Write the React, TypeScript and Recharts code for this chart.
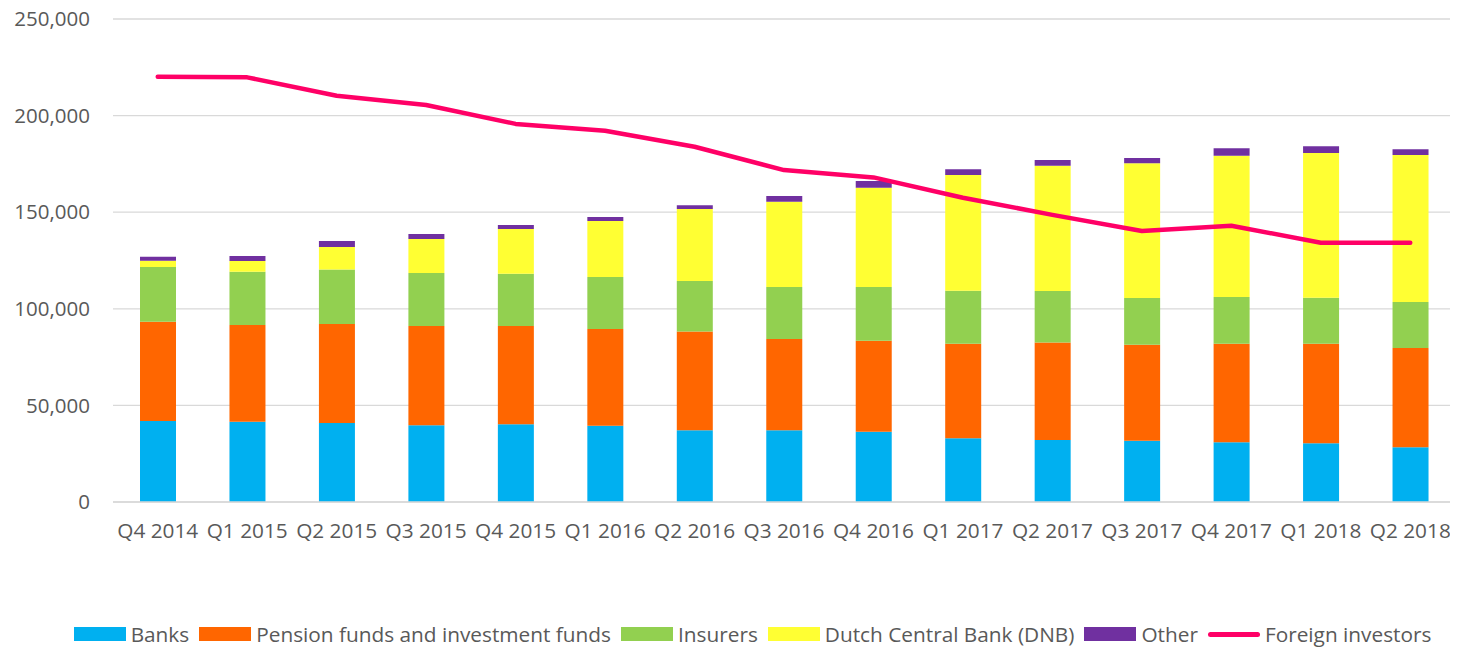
import { Bar, CartesianGrid, ComposedChart, Legend, Line, XAxis, YAxis } from "recharts"

const quarters = [
  "Q4 2014", "Q1 2015", "Q2 2015", "Q3 2015", "Q4 2015", "Q1 2016", "Q2 2016", "Q3 2016",
  "Q4 2016", "Q1 2017", "Q2 2017", "Q3 2017", "Q4 2017", "Q1 2018", "Q2 2018",
]
const banks = [41900, 41600, 40900, 39700, 40200, 39500, 37100, 37100, 36400, 33000, 32100, 31700, 30900, 30400, 28300]
const pensionFunds = [51400, 50000, 51200, 51400, 50900, 50000, 51100, 47300, 47100, 48900, 50400, 49700, 51000, 51500, 51400]
const insurers = [28300, 27600, 28200, 27400, 27100, 27000, 26200, 26900, 27800, 27500, 26700, 24200, 24200, 23800, 23800]
const dnb = [3300, 5500, 11700, 17600, 23100, 28900, 37300, 44100, 51400, 59900, 64900, 69700, 73100, 74900, 76100]
const other = [2100, 2600, 3100, 2600, 2100, 2100, 1900, 3000, 3400, 2900, 2900, 2800, 3900, 3500, 3000]
const foreignInvestors = [220100, 219800, 210300, 205500, 195700, 192200, 183900, 171800, 168000, 157500, 148600, 140300, 143000, 134200, 134200]
const yTicks = [0, 50000, 100000, 150000, 200000, 250000]

const data = quarters.map((q, i) => ({
  quarter: q,
  banks: banks[i],
  pension: pensionFunds[i],
  insurers: insurers[i],
  dnb: dnb[i],
  other: other[i],
  foreign: foreignInvestors[i],
}))

const FONT = "'Open Sans', sans-serif"
const TEXT = "#595959"

const legendItems = [
  { label: "Banks", color: "#00B0F0", line: false },
  { label: "Pension funds and investment funds", color: "#FF6600", line: false },
  { label: "Insurers", color: "#92D050", line: false },
  { label: "Dutch Central Bank (DNB)", color: "#FFFF33", line: false },
  { label: "Other", color: "#7030A0", line: false },
  { label: "Foreign investors", color: "#FF0066", line: true },
]

function ChartLegend() {
  return (
    <div
      style={{
        display: "flex",
        justifyContent: "center",
        alignItems: "center",
        height: 26,
        fontFamily: FONT,
        fontSize: 20.8,
        color: TEXT,
        gap: 10,
        paddingLeft: 42,
      }}
    >
      {legendItems.map((item) => (
        <div key={item.label} style={{ display: "flex", alignItems: "center", gap: 5 }}>
          {item.line ? (
            <div style={{ width: 52, height: 5, borderRadius: 3, background: item.color }} />
          ) : (
            <div style={{ width: 52, height: 14, background: item.color }} />
          )}
          <span>{item.label}</span>
        </div>
      ))}
    </div>
  )
}

export default function App() {
  // shifted up a little so the top tick label stays inside the svg
  return (
    <div style={{ width: 1450, height: 649, marginTop: -10, background: "#fff" }}>
      <ComposedChart
        width={1450}
        height={649}
        data={data}
        margin={{ top: 21, right: 3, left: 0, bottom: 0 }}
        barSize={36}
      >
        <CartesianGrid vertical={false} stroke="#D9D9D9" strokeWidth={1.3} />
        <XAxis
          dataKey="quarter"
          height={119}
          tick={{ fontSize: 20.8, fill: TEXT, fontFamily: FONT }}
          tickLine={false}
          axisLine={{ stroke: "#D9D9D9", strokeWidth: 1.3 }}
          tickMargin={15}
          interval={0}
        />
        <YAxis
          width={105}
          domain={[0, 250000]}
          ticks={yTicks}
          tick={{ fontSize: 20.5, fill: TEXT, fontFamily: FONT }}
          tickFormatter={(v: number) => v.toLocaleString("en-US")}
          axisLine={false}
          tickLine={false}
          tickMargin={17}
        />
        <Legend verticalAlign="bottom" content={() => <ChartLegend />} />
        <Bar dataKey="banks" stackId="a" fill="#00B0F0" isAnimationActive={false} />
        <Bar dataKey="pension" stackId="a" fill="#FF6600" isAnimationActive={false} />
        <Bar dataKey="insurers" stackId="a" fill="#92D050" isAnimationActive={false} />
        <Bar dataKey="dnb" stackId="a" fill="#FFFF33" isAnimationActive={false} />
        <Bar dataKey="other" stackId="a" fill="#7030A0" isAnimationActive={false} />
        <Line
          dataKey="foreign"
          type="linear"
          stroke="#FF0066"
          strokeWidth={4.5}
          strokeLinecap="round"
          strokeLinejoin="round"
          dot={false}
          activeDot={false}
          isAnimationActive={false}
        />
      </ComposedChart>
    </div>
  )
}
